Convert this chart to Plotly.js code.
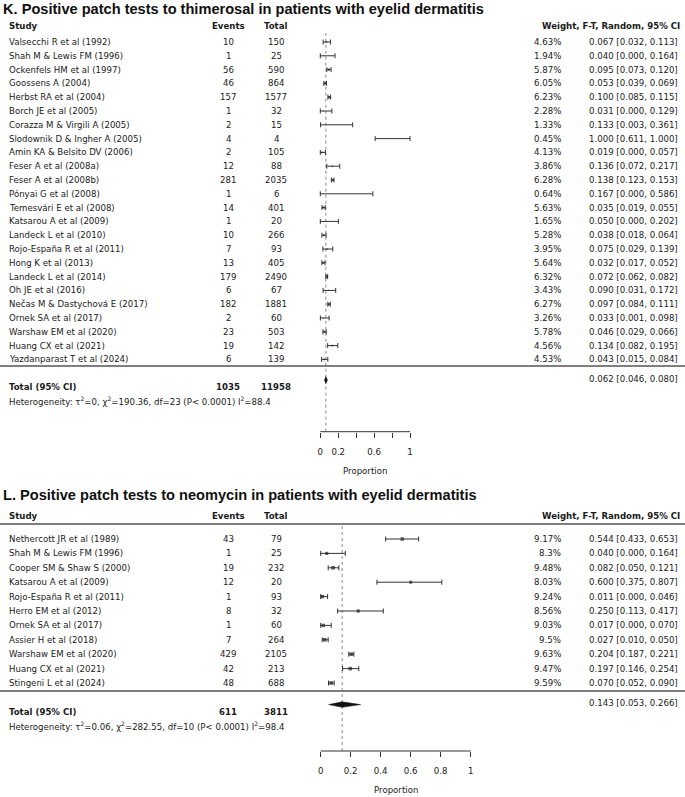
<!DOCTYPE html>
<html><head><meta charset="utf-8">
<script src="https://cdn.plot.ly/plotly-3.0.1.min.js"></script>
<style>html,body{margin:0;padding:0;background:#fff;}#chart{width:685px;height:797px;}</style>
</head><body><div id="chart"></div>
<script>
// ---------- DATA: panel K (thimerosal) ----------
const studiesK = ["Valsecchi R et al (1992)","Shah M & Lewis FM (1996)","Ockenfels HM et al (1997)","Goossens A (2004)","Herbst RA et al (2004)","Borch JE et al (2005)","Corazza M & Virgili A (2005)","Slodownik D & Ingher A (2005)","Amin KA & Belsito DV (2006)","Feser A et al (2008a)","Feser A et al (2008b)","Pónyai G et al (2008)","Temesvári E et al (2008)","Katsarou A et al (2009)","Landeck L et al (2010)","Rojo-España R et al (2011)","Hong K et al (2013)","Landeck L et al (2014)","Oh JE et al (2016)","Nečas M & Dastychová E (2017)","Ornek SA et al (2017)","Warshaw EM et al (2020)","Huang CX et al (2021)","Yazdanparast T et al (2024)"];
const eventsK = [10,1,56,46,157,1,2,4,2,12,281,1,14,1,10,7,13,179,6,182,2,23,19,6];
const totalK = [150,25,590,864,1577,32,15,4,105,88,2035,6,401,20,266,93,405,2490,67,1881,60,503,142,139];
const weightK = [4.63,1.94,5.87,6.05,6.23,2.28,1.33,0.45,4.13,3.86,6.28,0.64,5.63,1.65,5.28,3.95,5.64,6.32,3.43,6.27,3.26,5.78,4.56,4.53];
const estK = [0.067,0.040,0.095,0.053,0.100,0.031,0.133,1.000,0.019,0.136,0.138,0.167,0.035,0.050,0.038,0.075,0.032,0.072,0.090,0.097,0.033,0.046,0.134,0.043];
const loK  = [0.032,0.000,0.073,0.039,0.085,0.000,0.003,0.611,0.000,0.072,0.123,0.000,0.019,0.000,0.018,0.029,0.017,0.062,0.031,0.084,0.001,0.029,0.082,0.015];
const hiK  = [0.113,0.164,0.120,0.069,0.115,0.129,0.361,1.000,0.057,0.217,0.153,0.586,0.055,0.202,0.064,0.139,0.052,0.082,0.172,0.111,0.098,0.066,0.195,0.084];
const pooledK = [0.062,0.046,0.080]; // est, lo, hi
const hetK = "Heterogeneity: τ<sup>2</sup>=0, χ<sup>2</sup>=190.36, df=23 (P< 0.0001) I<sup>2</sup>=88.4";
const titleK = "K. Positive patch tests to thimerosal in patients with eyelid dermatitis";

// ---------- DATA: panel L (neomycin) ----------
const studiesL = ["Nethercott JR et al (1989)","Shah M & Lewis FM (1996)","Cooper SM & Shaw S (2000)","Katsarou A et al (2009)","Rojo-España R et al (2011)","Herro EM et al (2012)","Ornek SA et al (2017)","Assier H et al (2018)","Warshaw EM et al (2020)","Huang CX et al (2021)","Stingeni L et al (2024)"];
const eventsL = [43,1,19,12,1,8,1,7,429,42,48];
const totalL = [79,25,232,20,93,32,60,264,2105,213,688];
const weightL = [9.17,8.3,9.48,8.03,9.24,8.56,9.03,9.5,9.63,9.47,9.59];
const estL = [0.544,0.040,0.082,0.600,0.011,0.250,0.017,0.027,0.204,0.197,0.070];
const loL  = [0.433,0.000,0.050,0.375,0.000,0.113,0.000,0.010,0.187,0.146,0.052];
const hiL  = [0.653,0.164,0.121,0.807,0.046,0.417,0.070,0.050,0.221,0.254,0.090];
const pooledL = [0.143,0.053,0.266];
const hetL = "Heterogeneity: τ<sup>2</sup>=0.06, χ<sup>2</sup>=282.55, df=10 (P< 0.0001) I<sup>2</sup>=98.4";
const titleL = "L. Positive patch tests to neomycin in patients with eyelid dermatitis";

// axis ticks: labelled majors and unlabelled minors
const majorK = [0,0.2,0.6,1], minorK = [0.4,0.8];
const majorL = [0,0.2,0.4,0.6,0.8,1], minorL = [];

// ---------- layout helpers ----------
const W = 685, H = 797;
const py = p => 1 - p / H;
const pxp = p => p / W;
const BODY = "DejaVu Sans";
const FS = 8.6;
const TXT = "#1a1a1a";

const panels = [
  {ax:"", study:studiesK, ev:eventsK, tot:totalK, w:weightK, est:estK, lo:loK, hi:hiK, pooled:pooledK, het:hetK, title:titleK,
   major:majorK, minor:minorK, titleY:9, headY:26, headLine:null, row0:42, dy:13.8, top:33, axisY:431.7, x0:320.3, x1:410, sepY:366, propY:471, dh:0.25},
  {ax:"2", study:studiesL, ev:eventsL, tot:totalL, w:weightL, est:estL, lo:loL, hi:hiL, pooled:pooledL, het:hetL, title:titleL,
   major:majorL, minor:minorL, titleY:495, headY:516, headLine:524, row0:539, dy:14.4, top:524, axisY:751, x0:320.7, x1:470.7, sepY:691, propY:790, dh:0.19}
];

const data = [], annotations = [], shapes = [];
const layout = {width:W, height:H, margin:{l:0,r:0,t:0,b:0}, paper_bgcolor:"#fff", plot_bgcolor:"rgba(0,0,0,0)",
  showlegend:false, hovermode:false, annotations, shapes};

function ann(text, x, y, xanchor, opts) {
  annotations.push(Object.assign({text, x, y, xanchor, yanchor:"middle", showarrow:false,
    xref:"paper", yref:"paper", font:{family:BODY, size:FS, color:TXT}}, opts||{}));
}

panels.forEach(P => {
  const xa = "x" + P.ax, ya = "y" + P.ax;
  const n = P.study.length;
  const ppu = P.x1 - P.x0, pad = 0.1;
  const yAt = p => (p - P.row0) / P.dy;
  const xaxis = {domain:[pxp(P.x0 - pad*ppu), pxp(P.x1 + pad*ppu)], range:[-pad, 1+pad], anchor:ya,
    showgrid:false, zeroline:false, showline:false, ticks:"outside", ticklen:5, tickwidth:1, tickcolor:"#333",
    tickmode:"array", tickvals:P.major, ticktext:P.major.map(String),
    tickfont:{family:BODY, size:FS, color:TXT}, ticklabelstandoff:7, fixedrange:true};
  if (P.minor.length) xaxis.minor = {tickmode:"array", tickvals:P.minor, ticks:"outside", ticklen:5, tickwidth:1, tickcolor:"#333", showgrid:false};
  layout["xaxis" + P.ax] = xaxis;
  layout["yaxis" + P.ax] = {domain:[py(P.axisY), py(P.top)], range:[yAt(P.axisY), yAt(P.top)], anchor:xa,
    visible:false, showgrid:false, zeroline:false, fixedrange:true};

  // study markers with CI whiskers
  data.push({type:"scatter", mode:"markers", xaxis:xa, yaxis:ya,
    x:P.est, y:P.est.map((_, i) => i),
    marker:{symbol:"square", size:P.w.map(v => 0.38 * v), color:"#222", line:{width:0}},
    error_x:{type:"data", symmetric:false, array:P.est.map((e, i) => P.hi[i] - e),
      arrayminus:P.est.map((e, i) => e - P.lo[i]), color:"#333", thickness:1, width:2.5},
    cliponaxis:false});

  // pooled diamond (half a row below the last study)
  const r = n + 0.5;
  data.push({type:"scatter", mode:"lines", xaxis:xa, yaxis:ya, fill:"toself", fillcolor:"#111",
    line:{color:"#111", width:0.5},
    x:[P.pooled[1], P.pooled[0], P.pooled[2], P.pooled[0], P.pooled[1]],
    y:[r, r - P.dh, r, r + P.dh, r]});

  // dotted reference line at pooled estimate
  shapes.push({type:"line", xref:xa, yref:ya + " domain", x0:P.pooled[0], x1:P.pooled[0], y0:0, y1:1,
    line:{color:"#8a8a8a", width:1, dash:"dot"}, layer:"below"});
  // axis line from 0 to 1
  shapes.push({type:"line", xref:xa, yref:ya + " domain", x0:0, x1:1, y0:0, y1:0, line:{color:"#333", width:1}});
  // separators
  shapes.push({type:"line", xref:"paper", yref:"paper", x0:0, x1:1, y0:py(P.sepY), y1:py(P.sepY), line:{color:"#555", width:1.5}});
  if (P.headLine) shapes.push({type:"line", xref:"paper", yref:"paper", x0:0, x1:1, y0:py(P.headLine), y1:py(P.headLine), line:{color:"#555", width:1.5}});

  // title and header
  ann("<b>" + P.title + "</b>", pxp(1), py(P.titleY), "left", {font:{family:"Liberation Sans, Arial", size:14.6, color:"#111"}});
  const hb = {font:{family:BODY, size:FS, color:TXT}};
  ann("<b>Study</b>", pxp(7), py(P.headY), "left", hb);
  ann("<b>Events</b>", pxp(228), py(P.headY), "center", hb);
  ann("<b>Total</b>", pxp(276), py(P.headY), "center", hb);
  ann("<b>Weight, F-T, Random, 95% CI</b>", pxp(682), py(P.headY), "right", hb);

  // rows
  const rowOpt = {yref:ya};
  P.study.forEach((s, i) => {
    ann(s, pxp(7), i, "left", rowOpt);
    ann(String(P.ev[i]), pxp(228), i, "center", rowOpt);
    ann(String(P.tot[i]), pxp(276), i, "center", rowOpt);
    ann(String(P.w[i]) + "%", pxp(563), i, "right", rowOpt);
    ann(P.est[i].toFixed(3) + " [" + P.lo[i].toFixed(3) + ", " + P.hi[i].toFixed(3) + "]", pxp(680), i, "right", rowOpt);
  });
  const sum = a => a.reduce((s, v) => s + v, 0);
  ann("<b>Total (95% CI)</b>", pxp(7), n + 1, "left", rowOpt);
  ann("<b>" + sum(P.ev) + "</b>", pxp(228), n + 1, "center", rowOpt);
  ann("<b>" + sum(P.tot) + "</b>", pxp(276), n + 1, "center", rowOpt);
  ann(P.pooled[0].toFixed(3) + " [" + P.pooled[1].toFixed(3) + ", " + P.pooled[2].toFixed(3) + "]", pxp(680), n + 0.4, "right", rowOpt);
  ann(P.het, pxp(7), n + 2, "left", rowOpt);
  ann("Proportion", 0.5, py(P.propY), "center", {xref:xa});
});

Plotly.newPlot("chart", data, layout, {staticPlot:true, displayModeBar:false});
</script></body></html>
